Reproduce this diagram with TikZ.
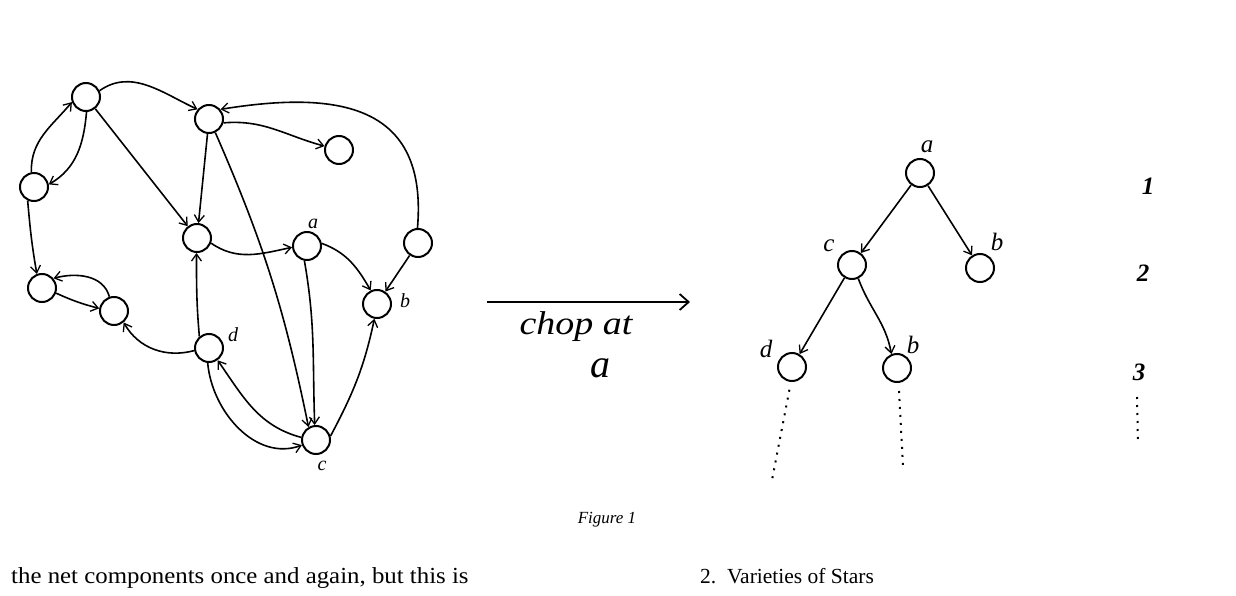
\documentclass[tikz,border=0pt]{standalone}
\usepackage{fontspec}
\setmainfont{Liberation Serif}
\usetikzlibrary{arrows.meta}
\begin{document}
\begin{tikzpicture}[x=1pt,y=1pt,
  vtx/.style={circle,draw,line width=2pt,minimum size=28pt,inner sep=0pt},
  edge/.style={line width=1.6pt,-{Straight Barb[length=7pt,width=10pt,line width=1.3pt]}},
  hand/.style={font=\fontsize{20}{20}\selectfont\itshape,inner sep=0pt},
  handL/.style={font=\fontsize{25}{25}\selectfont\itshape,inner sep=0pt},
  dotline/.style={line width=2pt,dash pattern=on 2pt off 6pt},
  body/.style={font=\fontsize{23}{27}\selectfont,inner sep=0pt,anchor=base west}]
\useasboundingbox (0,0) rectangle (1236,-596);
% left graph nodes
\node[vtx] (n1) at (86,-97) {};
\node[vtx] (n2) at (209,-119) {};
\node[vtx] (n3) at (339,-150) {};
\node[vtx] (n4) at (34,-187) {};
\node[vtx] (n5) at (197,-238) {};
\node[vtx] (na) at (307,-246) {};
\node[vtx] (n7) at (418,-243) {};
\node[vtx] (nb) at (377,-304) {};
\node[vtx] (n9) at (42,-288) {};
\node[vtx] (n10) at (114,-311) {};
\node[vtx] (nd) at (209,-348) {};
\node[vtx] (nc) at (316,-440) {};
\node[hand] (la) at (313,-224) {a};
\node[hand] (lb) at (405,-301) {b};
\node[hand] (ld) at (233,-335) {d};
\node[hand] (lc) at (322,-466) {c};
% left graph edges
\draw[edge] (n1.25) to[out=35,in=155] (n2.140);
\draw[edge] (n4.100) to[out=92,in=230] (n1.200);
\draw[edge] (n1.272) to[out=265,in=30] (n4.10);
\draw[edge] (n1) -- (n5);
\draw[edge] (n2) -- (n5);
\draw[edge] (n2.-15) to[out=5,in=165] (n3.165);
\draw[edge] (n7.92) .. controls (428,-105) and (340,-90) .. (n2.40);
\draw[edge] (n2.-65) to[bend left=6] (nc.120);
\draw[edge] (n5.-20) to[out=-35,in=192] (na.185);
\draw[edge] (na.10) to[out=-20,in=120] (nb.115);
\draw[edge] (n7) -- (nb);
\draw[edge] (na.-100) to[out=-80,in=92] (nc.95);
\draw[edge] (nc.15) to[out=62,in=-102] (nb.-100);
\draw[edge] (nd.130) to[out=95,in=-90] (n5.-92);
\draw[edge] (nd.190) to[out=195,in=-60] (n10.-50);
\draw[edge] (n9.-20) to[bend right=5] (n10.170);
\draw[edge] (n10.108) to[out=105,in=15] (n9.40);
\draw[edge] (n4.-115) to[out=-85,in=100] (n9.110);
\draw[edge] (nc.170) to[out=165,in=-55] (nd.-55);
\draw[edge] (nd.-95) to[out=-85,in=200] (nc.200);
% chop arrow
\coordinate (chL) at (487,-302);
\coordinate (chR) at (690,-302);
\draw[line width=2pt,-{Straight Barb[length=9pt,width=16pt,line width=1.8pt]}] (chL) -- (chR);
\node[font=\fontsize{33}{33}\selectfont\itshape,inner sep=0pt] (chop) at (576,-327) {\scalebox{1.15}[1]{chop at}};
\node[font=\fontsize{40}{40}\selectfont\itshape,inner sep=0pt] (cha) at (600,-368) {a};
% tree
\node[vtx] (ta) at (920,-173) {};
\node[vtx] (tc) at (852,-265) {};
\node[vtx] (tb1) at (980,-268) {};
\node[vtx] (td) at (792,-367) {};
\node[vtx] (tb2) at (897,-368) {};
\node[handL] (lta) at (927,-147) {a};
\node[handL] (ltc) at (829,-246) {c};
\node[handL] (ltb1) at (997,-242) {b};
\node[handL] (ltd) at (766,-349) {d};
\node[handL] (ltb2) at (913,-345) {b};
\draw[edge] (ta) -- (tc);
\draw[edge] (ta) -- (tb1);
\draw[edge] (tc) -- (td);
\draw[edge] (tc.-65) to[out=-70,in=100] (tb2.112);
\coordinate (tdE) at (772,-480);
\coordinate (tbE) at (903,-466);
\draw[dotline] (td.-100) ++(0,-8) -- (tdE);
\draw[dotline] (tb2.-90) ++(2,-8) -- (tbE);
% levels
\node[handL] (l1) at (1148,-186) {\bfseries 1};
\node[handL] (l2) at (1143,-273) {\bfseries 2};
\node[handL] (l3) at (1139,-372) {\bfseries 3};
\coordinate (lvA) at (1137,-397);
\coordinate (lvB) at (1138,-444);
\draw[dotline] (lvA) -- (lvB);
% captions
\node[font=\fontsize{17}{17}\selectfont\itshape] (fig) at (607,-520) {Figure 1};
\node[body] (t1) at (11,-583) {\scalebox{1.08}[1]{the net components once and again, but this is}};
\node[body,font=\fontsize{21.5}{26}\selectfont] (t2) at (700,-583) {2.\ \ Varieties of Stars};
\end{tikzpicture}
\end{document}
